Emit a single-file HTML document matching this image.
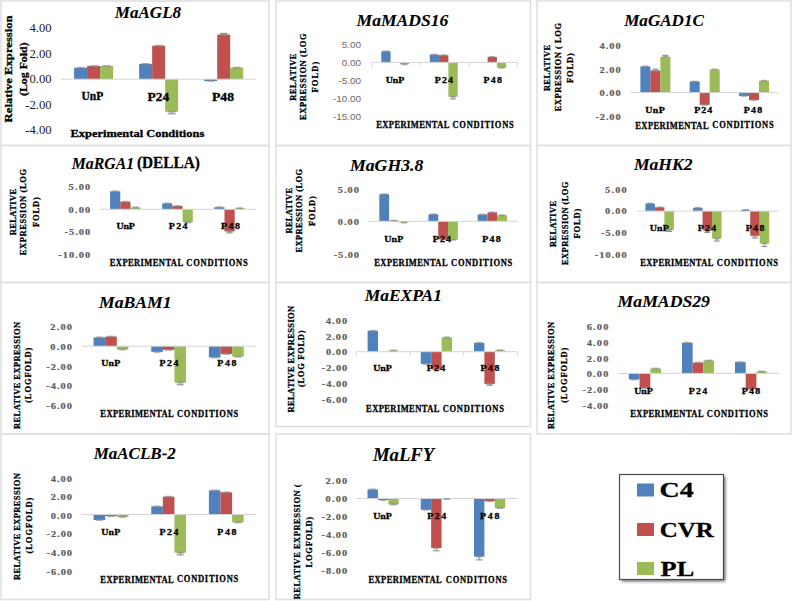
<!DOCTYPE html>
<html><head><meta charset="utf-8"><style>
html,body{margin:0;padding:0;background:#fff;}
svg{display:block;}
</style></head><body>
<svg width="793" height="601" viewBox="0 0 793 601">
<defs><filter id="sh" x="-10%" y="-10%" width="130%" height="130%"><feGaussianBlur stdDeviation="1.4"/></filter></defs>
<rect width="793" height="601" fill="#fff"/>
<rect x="1.00" y="1.00" width="268.00" height="144.50" fill="none" stroke="#dedede" stroke-width="1.5"/>
<rect x="74.10" y="67.80" width="13.00" height="11.40" fill="#4f81bd"/>
<rect x="87.10" y="66.00" width="13.00" height="13.20" fill="#c0504d"/>
<rect x="100.10" y="66.00" width="13.00" height="13.20" fill="#9bbb59"/>
<rect x="139.15" y="63.90" width="13.00" height="15.30" fill="#4f81bd"/>
<rect x="152.15" y="45.70" width="13.00" height="33.50" fill="#c0504d"/>
<rect x="165.15" y="79.20" width="13.00" height="32.50" fill="#9bbb59"/>
<rect x="204.20" y="79.20" width="13.00" height="1.80" fill="#4f81bd"/>
<rect x="217.20" y="34.60" width="13.00" height="44.60" fill="#c0504d"/>
<rect x="230.20" y="67.60" width="13.00" height="11.60" fill="#9bbb59"/>
<line x1="61.00" y1="79.20" x2="256.00" y2="79.20" stroke="#d4d4d4" stroke-width="1.0"/>
<rect x="76.70" y="66.90" width="7.80" height="1.8" fill="#8c8c8c" opacity="0.75"/>
<rect x="89.70" y="65.10" width="7.80" height="1.8" fill="#8c8c8c" opacity="0.75"/>
<rect x="102.70" y="65.10" width="7.80" height="1.8" fill="#8c8c8c" opacity="0.75"/>
<rect x="141.75" y="63.00" width="7.80" height="1.8" fill="#8c8c8c" opacity="0.75"/>
<rect x="154.75" y="44.80" width="7.80" height="1.8" fill="#8c8c8c" opacity="0.75"/>
<line x1="171.65" y1="111.70" x2="171.65" y2="113.90" stroke="#8c8c8c" stroke-width="0.9"/>
<line x1="167.75" y1="113.90" x2="175.55" y2="113.90" stroke="#8c8c8c" stroke-width="1.1"/>
<rect x="167.75" y="110.80" width="7.80" height="1.8" fill="#8c8c8c" opacity="0.75"/>
<rect x="206.80" y="80.10" width="7.80" height="1.8" fill="#8c8c8c" opacity="0.75"/>
<line x1="223.70" y1="34.60" x2="223.70" y2="33.40" stroke="#8c8c8c" stroke-width="0.9"/>
<line x1="219.80" y1="33.40" x2="227.60" y2="33.40" stroke="#8c8c8c" stroke-width="1.1"/>
<rect x="219.80" y="33.70" width="7.80" height="1.8" fill="#8c8c8c" opacity="0.75"/>
<rect x="232.80" y="66.70" width="7.80" height="1.8" fill="#8c8c8c" opacity="0.75"/>
<text id="t0" x="114.86" y="18.42" font-family="Liberation Serif" font-size="17.00" font-weight="bold" font-style="italic" fill="#000" stroke="#000" stroke-width="0.1" textLength="66.19" lengthAdjust="spacingAndGlyphs">MaAGL8</text>
<text id="t1" x="29.55" y="32.13" font-family="Liberation Serif" font-size="12.40" font-weight="normal" fill="#1a1a1a" textLength="22.06" lengthAdjust="spacingAndGlyphs">4.00</text>
<text id="t2" x="29.55" y="57.61" font-family="Liberation Serif" font-size="12.40" font-weight="normal" fill="#1a1a1a" textLength="22.06" lengthAdjust="spacingAndGlyphs">2.00</text>
<text id="t3" x="29.55" y="83.08" font-family="Liberation Serif" font-size="12.40" font-weight="normal" fill="#1a1a1a" textLength="22.06" lengthAdjust="spacingAndGlyphs">0.00</text>
<text id="t4" x="25.33" y="108.56" font-family="Liberation Serif" font-size="12.40" font-weight="normal" fill="#1a1a1a" textLength="26.25" lengthAdjust="spacingAndGlyphs">-2.00</text>
<text id="t5" x="25.33" y="134.03" font-family="Liberation Serif" font-size="12.40" font-weight="normal" fill="#1a1a1a" textLength="26.25" lengthAdjust="spacingAndGlyphs">-4.00</text>
<text id="t6" x="81.51" y="100.46" font-family="Liberation Serif" font-size="11.80" font-weight="bold" fill="#000" stroke="#000" stroke-width="0.3" textLength="21.77" lengthAdjust="spacingAndGlyphs">UnP</text>
<text id="t7" x="147.60" y="100.54" font-family="Liberation Serif" font-size="11.80" font-weight="bold" fill="#000" stroke="#000" stroke-width="0.3" textLength="21.68" lengthAdjust="spacingAndGlyphs">P24</text>
<text id="t8" x="212.00" y="100.51" font-family="Liberation Serif" font-size="11.80" font-weight="bold" fill="#000" stroke="#000" stroke-width="0.3" textLength="21.99" lengthAdjust="spacingAndGlyphs">P48</text>
<text id="t9" x="70.51" y="136.77" font-family="Liberation Serif" font-size="10.90" font-weight="bold" fill="#000" stroke="#000" stroke-width="0.3" textLength="133.81" lengthAdjust="spacingAndGlyphs">Experimental Conditions</text>
<text id="t10" transform="translate(11.96,122.20) rotate(-90)" x="-0.19" y="0" font-family="Liberation Serif" font-size="11.30" font-weight="bold" fill="#000" stroke="#000" stroke-width="0.3" textLength="107.03" lengthAdjust="spacingAndGlyphs">Relative Expression</text>
<text id="t11" transform="translate(26.68,95.50) rotate(-90)" x="-0.53" y="0" font-family="Liberation Serif" font-size="11.30" font-weight="bold" fill="#000" stroke="#000" stroke-width="0.3" textLength="53.64" lengthAdjust="spacingAndGlyphs">(Log Fold)</text>
<rect x="276.00" y="1.00" width="254.50" height="144.50" fill="none" stroke="#dedede" stroke-width="1.5"/>
<rect x="381.30" y="51.30" width="9.30" height="11.10" fill="#4f81bd"/>
<rect x="399.90" y="62.40" width="9.30" height="1.90" fill="#9bbb59"/>
<rect x="429.80" y="54.60" width="9.30" height="7.80" fill="#4f81bd"/>
<rect x="439.10" y="55.20" width="9.30" height="7.20" fill="#c0504d"/>
<rect x="448.40" y="62.40" width="9.30" height="34.30" fill="#9bbb59"/>
<rect x="487.60" y="56.90" width="9.30" height="5.50" fill="#c0504d"/>
<rect x="496.90" y="62.40" width="9.30" height="5.30" fill="#9bbb59"/>
<line x1="371.60" y1="62.40" x2="517.50" y2="62.40" stroke="#d4d4d4" stroke-width="1.0"/>
<line x1="371.60" y1="62.40" x2="371.60" y2="66.40" stroke="#d4d4d4" stroke-width="1"/>
<line x1="420.23" y1="62.40" x2="420.23" y2="66.40" stroke="#d4d4d4" stroke-width="1"/>
<line x1="468.87" y1="62.40" x2="468.87" y2="66.40" stroke="#d4d4d4" stroke-width="1"/>
<line x1="517.50" y1="62.40" x2="517.50" y2="66.40" stroke="#d4d4d4" stroke-width="1"/>
<rect x="383.16" y="50.40" width="5.58" height="1.8" fill="#8c8c8c" opacity="0.75"/>
<rect x="401.76" y="63.40" width="5.58" height="1.8" fill="#8c8c8c" opacity="0.75"/>
<rect x="431.66" y="53.70" width="5.58" height="1.8" fill="#8c8c8c" opacity="0.75"/>
<rect x="440.96" y="54.30" width="5.58" height="1.8" fill="#8c8c8c" opacity="0.75"/>
<line x1="453.05" y1="96.70" x2="453.05" y2="98.90" stroke="#8c8c8c" stroke-width="0.9"/>
<line x1="450.26" y1="98.90" x2="455.84" y2="98.90" stroke="#8c8c8c" stroke-width="1.1"/>
<rect x="450.26" y="95.80" width="5.58" height="1.8" fill="#8c8c8c" opacity="0.75"/>
<rect x="489.46" y="56.00" width="5.58" height="1.8" fill="#8c8c8c" opacity="0.75"/>
<rect x="498.76" y="66.80" width="5.58" height="1.8" fill="#8c8c8c" opacity="0.75"/>
<text id="t12" x="356.56" y="26.02" font-family="Liberation Serif" font-size="17.00" font-weight="bold" font-style="italic" fill="#000" stroke="#000" stroke-width="0.1" textLength="91.81" lengthAdjust="spacingAndGlyphs">MaMADS16</text>
<text id="t13" x="341.80" y="47.57" font-family="Liberation Sans" font-size="8.60" font-weight="normal" fill="#6a6a6a" textLength="19.36" lengthAdjust="spacingAndGlyphs">5.00</text>
<text id="t14" x="341.80" y="65.57" font-family="Liberation Sans" font-size="8.60" font-weight="normal" fill="#6a6a6a" textLength="19.36" lengthAdjust="spacingAndGlyphs">0.00</text>
<text id="t15" x="338.47" y="83.57" font-family="Liberation Sans" font-size="8.60" font-weight="normal" fill="#6a6a6a" textLength="22.67" lengthAdjust="spacingAndGlyphs">-5.00</text>
<text id="t16" x="332.95" y="101.57" font-family="Liberation Sans" font-size="8.60" font-weight="normal" fill="#6a6a6a" textLength="28.20" lengthAdjust="spacingAndGlyphs">-10.00</text>
<text id="t17" x="332.95" y="119.57" font-family="Liberation Sans" font-size="8.60" font-weight="normal" fill="#6a6a6a" textLength="28.20" lengthAdjust="spacingAndGlyphs">-15.00</text>
<text id="t18" transform="scale(1.1,1)" x="350.68" y="83.05" font-family="Liberation Serif" font-size="9.00" font-weight="bold" fill="#000" stroke="#000" stroke-width="0.3" textLength="16.81" lengthAdjust="spacing">UnP</text>
<text id="t19" transform="scale(1.1,1)" x="395.14" y="83.12" font-family="Liberation Serif" font-size="9.00" font-weight="bold" fill="#000" stroke="#000" stroke-width="0.3" textLength="16.69" lengthAdjust="spacing">P24</text>
<text id="t20" transform="scale(1.1,1)" x="439.50" y="83.10" font-family="Liberation Serif" font-size="9.00" font-weight="bold" fill="#000" stroke="#000" stroke-width="0.3" textLength="16.82" lengthAdjust="spacing">P48</text>
<text id="t21" transform="scale(0.86,1)" x="437.41" y="128.42" font-family="Liberation Serif" font-size="9.90" font-weight="bold" fill="#000" stroke="#000" stroke-width="0.3" textLength="85.23" lengthAdjust="spacing">EXPERIMENTAL</text>
<text id="t22" transform="scale(0.86,1)" x="526.13" y="128.37" font-family="Liberation Serif" font-size="9.90" font-weight="bold" fill="#000" stroke="#000" stroke-width="0.3" textLength="71.25" lengthAdjust="spacing">CONDITIONS</text>
<text id="t23" transform="translate(295.72,100.60) rotate(-90) scale(0.92,1)" x="-0.14" y="0" font-family="Liberation Serif" font-size="9.20" font-weight="bold" fill="#000" stroke="#000" stroke-width="0.3" textLength="51.36" lengthAdjust="spacing">RELATIVE</text>
<text id="t24" transform="translate(306.06,119.80) rotate(-90) scale(0.92,1)" x="-0.14" y="0" font-family="Liberation Serif" font-size="9.20" font-weight="bold" fill="#000" stroke="#000" stroke-width="0.3" textLength="93.97" lengthAdjust="spacing">EXPRESSION (LOG</text>
<text id="t25" transform="translate(318.36,92.30) rotate(-90) scale(0.92,1)" x="-0.14" y="0" font-family="Liberation Serif" font-size="9.20" font-weight="bold" fill="#000" stroke="#000" stroke-width="0.3" textLength="33.34" lengthAdjust="spacing">FOLD)</text>
<rect x="537.00" y="1.00" width="254.00" height="144.50" fill="none" stroke="#dedede" stroke-width="1.5"/>
<rect x="640.40" y="66.40" width="10.00" height="26.20" fill="#4f81bd"/>
<rect x="650.40" y="70.50" width="10.00" height="22.10" fill="#c0504d"/>
<rect x="660.40" y="56.90" width="10.00" height="35.70" fill="#9bbb59"/>
<rect x="689.70" y="81.50" width="10.00" height="11.10" fill="#4f81bd"/>
<rect x="699.70" y="92.60" width="10.00" height="12.30" fill="#c0504d"/>
<rect x="709.70" y="69.50" width="10.00" height="23.10" fill="#9bbb59"/>
<rect x="739.00" y="92.60" width="10.00" height="3.30" fill="#4f81bd"/>
<rect x="749.00" y="92.60" width="10.00" height="7.40" fill="#c0504d"/>
<rect x="759.00" y="80.70" width="10.00" height="11.90" fill="#9bbb59"/>
<line x1="630.40" y1="92.60" x2="778.70" y2="92.60" stroke="#d4d4d4" stroke-width="1.0"/>
<rect x="642.40" y="65.50" width="6.00" height="1.8" fill="#8c8c8c" opacity="0.75"/>
<line x1="655.40" y1="70.50" x2="655.40" y2="69.10" stroke="#8c8c8c" stroke-width="0.9"/>
<line x1="652.40" y1="69.10" x2="658.40" y2="69.10" stroke="#8c8c8c" stroke-width="1.1"/>
<rect x="652.40" y="69.60" width="6.00" height="1.8" fill="#8c8c8c" opacity="0.75"/>
<line x1="665.40" y1="56.90" x2="665.40" y2="55.30" stroke="#8c8c8c" stroke-width="0.9"/>
<line x1="662.40" y1="55.30" x2="668.40" y2="55.30" stroke="#8c8c8c" stroke-width="1.1"/>
<rect x="662.40" y="56.00" width="6.00" height="1.8" fill="#8c8c8c" opacity="0.75"/>
<rect x="691.70" y="80.60" width="6.00" height="1.8" fill="#8c8c8c" opacity="0.75"/>
<rect x="701.70" y="104.00" width="6.00" height="1.8" fill="#8c8c8c" opacity="0.75"/>
<rect x="711.70" y="68.60" width="6.00" height="1.8" fill="#8c8c8c" opacity="0.75"/>
<rect x="741.00" y="95.00" width="6.00" height="1.8" fill="#8c8c8c" opacity="0.75"/>
<rect x="751.00" y="99.10" width="6.00" height="1.8" fill="#8c8c8c" opacity="0.75"/>
<rect x="761.00" y="79.80" width="6.00" height="1.8" fill="#8c8c8c" opacity="0.75"/>
<text id="t26" x="624.16" y="26.02" font-family="Liberation Serif" font-size="17.00" font-weight="bold" font-style="italic" fill="#000" stroke="#000" stroke-width="0.1" textLength="79.72" lengthAdjust="spacingAndGlyphs">MaGAD1C</text>
<text id="t27" transform="scale(1.15,1)" x="521.34" y="48.72" font-family="Liberation Serif" font-size="9.00" font-weight="bold" fill="#5c5c5c" stroke="#5c5c5c" stroke-width="0.2" textLength="18.32" lengthAdjust="spacing">4.00</text>
<text id="t28" transform="scale(1.15,1)" x="521.38" y="72.56" font-family="Liberation Serif" font-size="9.00" font-weight="bold" fill="#5c5c5c" stroke="#5c5c5c" stroke-width="0.2" textLength="18.28" lengthAdjust="spacing">2.00</text>
<text id="t29" transform="scale(1.15,1)" x="521.38" y="96.39" font-family="Liberation Serif" font-size="9.00" font-weight="bold" fill="#5c5c5c" stroke="#5c5c5c" stroke-width="0.2" textLength="18.28" lengthAdjust="spacing">0.00</text>
<text id="t30" transform="scale(1.15,1)" x="517.85" y="120.22" font-family="Liberation Serif" font-size="9.00" font-weight="bold" fill="#5c5c5c" stroke="#5c5c5c" stroke-width="0.2" textLength="21.80" lengthAdjust="spacing">-2.00</text>
<text id="t31" transform="scale(1.1,1)" x="586.59" y="112.60" font-family="Liberation Serif" font-size="9.00" font-weight="bold" fill="#000" stroke="#000" stroke-width="0.3" textLength="17.72" lengthAdjust="spacing">UnP</text>
<text id="t32" transform="scale(1.1,1)" x="631.05" y="112.67" font-family="Liberation Serif" font-size="9.00" font-weight="bold" fill="#000" stroke="#000" stroke-width="0.3" textLength="16.50" lengthAdjust="spacing">P24</text>
<text id="t33" transform="scale(1.1,1)" x="676.05" y="112.65" font-family="Liberation Serif" font-size="9.00" font-weight="bold" fill="#000" stroke="#000" stroke-width="0.3" textLength="16.82" lengthAdjust="spacing">P48</text>
<text id="t34" transform="scale(0.86,1)" x="738.69" y="128.52" font-family="Liberation Serif" font-size="9.90" font-weight="bold" fill="#000" stroke="#000" stroke-width="0.3" textLength="85.23" lengthAdjust="spacing">EXPERIMENTAL</text>
<text id="t35" transform="scale(0.86,1)" x="828.34" y="128.47" font-family="Liberation Serif" font-size="9.90" font-weight="bold" fill="#000" stroke="#000" stroke-width="0.3" textLength="71.25" lengthAdjust="spacing">CONDITIONS</text>
<text id="t36" transform="translate(549.57,91.00) rotate(-90) scale(0.92,1)" x="-0.14" y="0" font-family="Liberation Serif" font-size="9.20" font-weight="bold" fill="#000" stroke="#000" stroke-width="0.3" textLength="50.38" lengthAdjust="spacing">RELATIVE</text>
<text id="t37" transform="translate(560.71,111.20) rotate(-90) scale(0.92,1)" x="-0.14" y="0" font-family="Liberation Serif" font-size="9.20" font-weight="bold" fill="#000" stroke="#000" stroke-width="0.3" textLength="96.03" lengthAdjust="spacing">EXPRESSION ( LOG</text>
<text id="t38" transform="translate(573.06,82.80) rotate(-90) scale(0.92,1)" x="-0.14" y="0" font-family="Liberation Serif" font-size="9.20" font-weight="bold" fill="#000" stroke="#000" stroke-width="0.3" textLength="32.36" lengthAdjust="spacing">FOLD)</text>
<rect x="1.00" y="145.50" width="268.00" height="137.00" fill="none" stroke="#dedede" stroke-width="1.5"/>
<rect x="110.10" y="191.30" width="10.20" height="18.00" fill="#4f81bd"/>
<rect x="120.30" y="201.70" width="10.20" height="7.60" fill="#c0504d"/>
<rect x="130.50" y="207.40" width="10.20" height="1.90" fill="#9bbb59"/>
<rect x="162.20" y="203.40" width="10.20" height="5.90" fill="#4f81bd"/>
<rect x="172.40" y="206.00" width="10.20" height="3.30" fill="#c0504d"/>
<rect x="182.60" y="209.30" width="10.20" height="13.10" fill="#9bbb59"/>
<rect x="214.30" y="207.20" width="10.20" height="2.10" fill="#4f81bd"/>
<rect x="224.50" y="209.30" width="10.20" height="22.10" fill="#c0504d"/>
<rect x="234.70" y="208.20" width="10.20" height="1.10" fill="#9bbb59"/>
<line x1="100.50" y1="209.30" x2="256.30" y2="209.30" stroke="#d4d4d4" stroke-width="1.0"/>
<rect x="112.14" y="190.40" width="6.12" height="1.8" fill="#8c8c8c" opacity="0.75"/>
<rect x="122.34" y="200.80" width="6.12" height="1.8" fill="#8c8c8c" opacity="0.75"/>
<rect x="132.54" y="206.50" width="6.12" height="1.8" fill="#8c8c8c" opacity="0.75"/>
<rect x="164.24" y="202.50" width="6.12" height="1.8" fill="#8c8c8c" opacity="0.75"/>
<rect x="174.44" y="205.10" width="6.12" height="1.8" fill="#8c8c8c" opacity="0.75"/>
<rect x="184.64" y="221.50" width="6.12" height="1.8" fill="#8c8c8c" opacity="0.75"/>
<rect x="216.34" y="206.30" width="6.12" height="1.8" fill="#8c8c8c" opacity="0.75"/>
<line x1="229.60" y1="231.40" x2="229.60" y2="233.00" stroke="#8c8c8c" stroke-width="0.9"/>
<line x1="226.54" y1="233.00" x2="232.66" y2="233.00" stroke="#8c8c8c" stroke-width="1.1"/>
<rect x="226.54" y="230.50" width="6.12" height="1.8" fill="#8c8c8c" opacity="0.75"/>
<rect x="236.74" y="207.30" width="6.12" height="1.8" fill="#8c8c8c" opacity="0.75"/>
<text id="t39" x="71.74" y="168.68" font-family="Liberation Serif" font-size="17.00" font-weight="bold" font-style="italic" fill="#000" stroke="#000" stroke-width="0.1" textLength="62.35" lengthAdjust="spacingAndGlyphs">MaRGA1</text>
<text id="t40" x="137.01" y="168.08" font-family="Liberation Serif" font-size="17.00" font-weight="bold" fill="#000" stroke="#000" stroke-width="0.3" textLength="62.82" lengthAdjust="spacingAndGlyphs">(DELLA)</text>
<text id="t41" transform="scale(1.15,1)" x="59.64" y="190.23" font-family="Liberation Serif" font-size="9.00" font-weight="bold" fill="#5c5c5c" stroke="#5c5c5c" stroke-width="0.2" textLength="18.81" lengthAdjust="spacing">5.00</text>
<text id="t42" transform="scale(1.15,1)" x="59.64" y="212.69" font-family="Liberation Serif" font-size="9.00" font-weight="bold" fill="#5c5c5c" stroke="#5c5c5c" stroke-width="0.2" textLength="18.81" lengthAdjust="spacing">0.00</text>
<text id="t43" transform="scale(1.15,1)" x="56.00" y="235.16" font-family="Liberation Serif" font-size="9.00" font-weight="bold" fill="#5c5c5c" stroke="#5c5c5c" stroke-width="0.2" textLength="22.43" lengthAdjust="spacing">-5.00</text>
<text id="t44" transform="scale(1.15,1)" x="50.59" y="257.62" font-family="Liberation Serif" font-size="9.00" font-weight="bold" fill="#5c5c5c" stroke="#5c5c5c" stroke-width="0.2" textLength="27.84" lengthAdjust="spacing">-10.00</text>
<text id="t45" transform="scale(1.1,1)" x="105.87" y="228.85" font-family="Liberation Serif" font-size="9.00" font-weight="bold" fill="#000" stroke="#000" stroke-width="0.3" textLength="16.72" lengthAdjust="spacing">UnP</text>
<text id="t46" transform="scale(1.1,1)" x="153.41" y="228.92" font-family="Liberation Serif" font-size="9.00" font-weight="bold" fill="#000" stroke="#000" stroke-width="0.3" textLength="16.96" lengthAdjust="spacing">P24</text>
<text id="t47" transform="scale(1.1,1)" x="200.96" y="228.90" font-family="Liberation Serif" font-size="9.00" font-weight="bold" fill="#000" stroke="#000" stroke-width="0.3" textLength="17.19" lengthAdjust="spacing">P48</text>
<text id="t48" transform="scale(0.86,1)" x="127.64" y="265.97" font-family="Liberation Serif" font-size="9.90" font-weight="bold" fill="#000" stroke="#000" stroke-width="0.3" textLength="85.23" lengthAdjust="spacing">EXPERIMENTAL</text>
<text id="t49" transform="scale(0.86,1)" x="216.71" y="265.92" font-family="Liberation Serif" font-size="9.90" font-weight="bold" fill="#000" stroke="#000" stroke-width="0.3" textLength="71.25" lengthAdjust="spacing">CONDITIONS</text>
<text id="t50" transform="translate(15.62,235.10) rotate(-90) scale(0.92,1)" x="-0.14" y="0" font-family="Liberation Serif" font-size="9.20" font-weight="bold" fill="#000" stroke="#000" stroke-width="0.3" textLength="50.38" lengthAdjust="spacing">RELATIVE</text>
<text id="t51" transform="translate(26.21,255.20) rotate(-90) scale(0.92,1)" x="-0.14" y="0" font-family="Liberation Serif" font-size="9.20" font-weight="bold" fill="#000" stroke="#000" stroke-width="0.3" textLength="93.86" lengthAdjust="spacing">EXPRESSION (LOG</text>
<text id="t52" transform="translate(38.66,226.80) rotate(-90) scale(0.92,1)" x="-0.14" y="0" font-family="Liberation Serif" font-size="9.20" font-weight="bold" fill="#000" stroke="#000" stroke-width="0.3" textLength="32.36" lengthAdjust="spacing">FOLD)</text>
<rect x="276.00" y="145.50" width="254.50" height="137.00" fill="none" stroke="#dedede" stroke-width="1.5"/>
<rect x="379.30" y="194.20" width="9.80" height="27.10" fill="#4f81bd"/>
<rect x="389.10" y="220.60" width="9.80" height="0.70" fill="#c0504d"/>
<rect x="398.90" y="221.30" width="9.80" height="1.30" fill="#9bbb59"/>
<rect x="428.45" y="214.30" width="9.80" height="7.00" fill="#4f81bd"/>
<rect x="438.25" y="221.30" width="9.80" height="18.10" fill="#c0504d"/>
<rect x="448.05" y="221.30" width="9.80" height="18.50" fill="#9bbb59"/>
<rect x="477.60" y="214.50" width="9.80" height="6.80" fill="#4f81bd"/>
<rect x="487.40" y="212.40" width="9.80" height="8.90" fill="#c0504d"/>
<rect x="497.20" y="215.20" width="9.80" height="6.10" fill="#9bbb59"/>
<line x1="368.60" y1="221.30" x2="517.70" y2="221.30" stroke="#d4d4d4" stroke-width="1.0"/>
<rect x="381.26" y="193.30" width="5.88" height="1.8" fill="#8c8c8c" opacity="0.75"/>
<rect x="391.06" y="219.70" width="5.88" height="1.8" fill="#8c8c8c" opacity="0.75"/>
<rect x="400.86" y="221.70" width="5.88" height="1.8" fill="#8c8c8c" opacity="0.75"/>
<rect x="430.41" y="213.40" width="5.88" height="1.8" fill="#8c8c8c" opacity="0.75"/>
<rect x="440.21" y="238.50" width="5.88" height="1.8" fill="#8c8c8c" opacity="0.75"/>
<rect x="450.01" y="238.90" width="5.88" height="1.8" fill="#8c8c8c" opacity="0.75"/>
<rect x="479.56" y="213.60" width="5.88" height="1.8" fill="#8c8c8c" opacity="0.75"/>
<rect x="489.36" y="211.50" width="5.88" height="1.8" fill="#8c8c8c" opacity="0.75"/>
<rect x="499.16" y="214.30" width="5.88" height="1.8" fill="#8c8c8c" opacity="0.75"/>
<text id="t53" x="350.07" y="171.03" font-family="Liberation Serif" font-size="17.00" font-weight="bold" font-style="italic" fill="#000" stroke="#000" stroke-width="0.1" textLength="73.18" lengthAdjust="spacingAndGlyphs">MaGH3.8</text>
<text id="t54" transform="scale(1.15,1)" x="293.73" y="192.93" font-family="Liberation Serif" font-size="9.00" font-weight="bold" fill="#5c5c5c" stroke="#5c5c5c" stroke-width="0.2" textLength="18.37" lengthAdjust="spacing">5.00</text>
<text id="t55" transform="scale(1.15,1)" x="293.73" y="225.33" font-family="Liberation Serif" font-size="9.00" font-weight="bold" fill="#5c5c5c" stroke="#5c5c5c" stroke-width="0.2" textLength="18.37" lengthAdjust="spacing">0.00</text>
<text id="t56" transform="scale(1.15,1)" x="290.18" y="257.73" font-family="Liberation Serif" font-size="9.00" font-weight="bold" fill="#5c5c5c" stroke="#5c5c5c" stroke-width="0.2" textLength="21.90" lengthAdjust="spacing">-5.00</text>
<text id="t57" transform="scale(1.1,1)" x="349.32" y="241.80" font-family="Liberation Serif" font-size="9.00" font-weight="bold" fill="#000" stroke="#000" stroke-width="0.3" textLength="17.26" lengthAdjust="spacing">UnP</text>
<text id="t58" transform="scale(1.1,1)" x="393.32" y="241.87" font-family="Liberation Serif" font-size="9.00" font-weight="bold" fill="#000" stroke="#000" stroke-width="0.3" textLength="16.69" lengthAdjust="spacing">P24</text>
<text id="t59" transform="scale(1.1,1)" x="438.32" y="241.85" font-family="Liberation Serif" font-size="9.00" font-weight="bold" fill="#000" stroke="#000" stroke-width="0.3" textLength="16.82" lengthAdjust="spacing">P48</text>
<text id="t60" transform="scale(0.86,1)" x="435.20" y="265.87" font-family="Liberation Serif" font-size="9.90" font-weight="bold" fill="#000" stroke="#000" stroke-width="0.3" textLength="85.23" lengthAdjust="spacing">EXPERIMENTAL</text>
<text id="t61" transform="scale(0.86,1)" x="524.50" y="265.82" font-family="Liberation Serif" font-size="9.90" font-weight="bold" fill="#000" stroke="#000" stroke-width="0.3" textLength="71.25" lengthAdjust="spacing">CONDITIONS</text>
<text id="t62" transform="translate(291.77,233.30) rotate(-90) scale(0.92,1)" x="-0.14" y="0" font-family="Liberation Serif" font-size="9.20" font-weight="bold" fill="#000" stroke="#000" stroke-width="0.3" textLength="49.40" lengthAdjust="spacing">RELATIVE</text>
<text id="t63" transform="translate(302.36,252.50) rotate(-90) scale(0.92,1)" x="-0.14" y="0" font-family="Liberation Serif" font-size="9.20" font-weight="bold" fill="#000" stroke="#000" stroke-width="0.3" textLength="90.93" lengthAdjust="spacing">EXPRESSION (LOG</text>
<text id="t64" transform="translate(314.81,225.90) rotate(-90) scale(0.92,1)" x="-0.14" y="0" font-family="Liberation Serif" font-size="9.20" font-weight="bold" fill="#000" stroke="#000" stroke-width="0.3" textLength="32.36" lengthAdjust="spacing">FOLD)</text>
<rect x="537.00" y="145.50" width="254.00" height="137.00" fill="none" stroke="#dedede" stroke-width="1.5"/>
<rect x="645.40" y="203.50" width="9.50" height="7.60" fill="#4f81bd"/>
<rect x="654.90" y="207.30" width="9.50" height="3.80" fill="#c0504d"/>
<rect x="664.40" y="211.10" width="9.50" height="18.80" fill="#9bbb59"/>
<rect x="693.05" y="207.80" width="9.50" height="3.30" fill="#4f81bd"/>
<rect x="702.55" y="211.10" width="9.50" height="19.30" fill="#c0504d"/>
<rect x="712.05" y="211.10" width="9.50" height="27.50" fill="#9bbb59"/>
<rect x="740.70" y="209.90" width="9.50" height="1.20" fill="#4f81bd"/>
<rect x="750.20" y="211.10" width="9.50" height="24.70" fill="#c0504d"/>
<rect x="759.70" y="211.10" width="9.50" height="32.40" fill="#9bbb59"/>
<line x1="637.00" y1="211.10" x2="778.70" y2="211.10" stroke="#d4d4d4" stroke-width="1.0"/>
<rect x="647.30" y="202.60" width="5.70" height="1.8" fill="#8c8c8c" opacity="0.75"/>
<rect x="656.80" y="206.40" width="5.70" height="1.8" fill="#8c8c8c" opacity="0.75"/>
<line x1="669.15" y1="229.90" x2="669.15" y2="231.50" stroke="#8c8c8c" stroke-width="0.9"/>
<line x1="666.30" y1="231.50" x2="672.00" y2="231.50" stroke="#8c8c8c" stroke-width="1.1"/>
<rect x="666.30" y="229.00" width="5.70" height="1.8" fill="#8c8c8c" opacity="0.75"/>
<rect x="694.95" y="206.90" width="5.70" height="1.8" fill="#8c8c8c" opacity="0.75"/>
<line x1="707.30" y1="230.40" x2="707.30" y2="232.40" stroke="#8c8c8c" stroke-width="0.9"/>
<line x1="704.45" y1="232.40" x2="710.15" y2="232.40" stroke="#8c8c8c" stroke-width="1.1"/>
<rect x="704.45" y="229.50" width="5.70" height="1.8" fill="#8c8c8c" opacity="0.75"/>
<line x1="716.80" y1="238.60" x2="716.80" y2="241.00" stroke="#8c8c8c" stroke-width="0.9"/>
<line x1="713.95" y1="241.00" x2="719.65" y2="241.00" stroke="#8c8c8c" stroke-width="1.1"/>
<rect x="713.95" y="237.70" width="5.70" height="1.8" fill="#8c8c8c" opacity="0.75"/>
<rect x="742.60" y="209.00" width="5.70" height="1.8" fill="#8c8c8c" opacity="0.75"/>
<line x1="754.95" y1="235.80" x2="754.95" y2="238.00" stroke="#8c8c8c" stroke-width="0.9"/>
<line x1="752.10" y1="238.00" x2="757.80" y2="238.00" stroke="#8c8c8c" stroke-width="1.1"/>
<rect x="752.10" y="234.90" width="5.70" height="1.8" fill="#8c8c8c" opacity="0.75"/>
<line x1="764.45" y1="243.50" x2="764.45" y2="246.50" stroke="#8c8c8c" stroke-width="0.9"/>
<line x1="761.60" y1="246.50" x2="767.30" y2="246.50" stroke="#8c8c8c" stroke-width="1.1"/>
<rect x="761.60" y="242.60" width="5.70" height="1.8" fill="#8c8c8c" opacity="0.75"/>
<text id="t65" x="633.96" y="170.18" font-family="Liberation Serif" font-size="17.00" font-weight="bold" font-style="italic" fill="#000" stroke="#000" stroke-width="0.1" textLength="58.56" lengthAdjust="spacingAndGlyphs">MaHK2</text>
<text id="t66" transform="scale(1.15,1)" x="526.16" y="192.63" font-family="Liberation Serif" font-size="9.00" font-weight="bold" fill="#5c5c5c" stroke="#5c5c5c" stroke-width="0.2" textLength="18.81" lengthAdjust="spacing">5.00</text>
<text id="t67" transform="scale(1.15,1)" x="526.16" y="214.39" font-family="Liberation Serif" font-size="9.00" font-weight="bold" fill="#5c5c5c" stroke="#5c5c5c" stroke-width="0.2" textLength="18.81" lengthAdjust="spacing">0.00</text>
<text id="t68" transform="scale(1.15,1)" x="522.52" y="236.16" font-family="Liberation Serif" font-size="9.00" font-weight="bold" fill="#5c5c5c" stroke="#5c5c5c" stroke-width="0.2" textLength="22.43" lengthAdjust="spacing">-5.00</text>
<text id="t69" transform="scale(1.15,1)" x="517.11" y="257.93" font-family="Liberation Serif" font-size="9.00" font-weight="bold" fill="#5c5c5c" stroke="#5c5c5c" stroke-width="0.2" textLength="27.84" lengthAdjust="spacing">-10.00</text>
<text id="t70" transform="scale(1.1,1)" x="590.77" y="230.85" font-family="Liberation Serif" font-size="9.00" font-weight="bold" fill="#000" stroke="#000" stroke-width="0.3" textLength="17.17" lengthAdjust="spacing">UnP</text>
<text id="t71" transform="scale(1.1,1)" x="634.32" y="230.92" font-family="Liberation Serif" font-size="9.00" font-weight="bold" fill="#000" stroke="#000" stroke-width="0.3" textLength="16.69" lengthAdjust="spacing">P24</text>
<text id="t72" transform="scale(1.1,1)" x="677.86" y="230.90" font-family="Liberation Serif" font-size="9.00" font-weight="bold" fill="#000" stroke="#000" stroke-width="0.3" textLength="17.00" lengthAdjust="spacing">P48</text>
<text id="t73" transform="scale(0.86,1)" x="744.39" y="266.07" font-family="Liberation Serif" font-size="9.90" font-weight="bold" fill="#000" stroke="#000" stroke-width="0.3" textLength="85.23" lengthAdjust="spacing">EXPERIMENTAL</text>
<text id="t74" transform="scale(0.86,1)" x="833.46" y="266.02" font-family="Liberation Serif" font-size="9.90" font-weight="bold" fill="#000" stroke="#000" stroke-width="0.3" textLength="71.25" lengthAdjust="spacing">CONDITIONS</text>
<text id="t75" transform="translate(556.42,247.00) rotate(-90) scale(0.92,1)" x="-0.14" y="0" font-family="Liberation Serif" font-size="9.20" font-weight="bold" fill="#000" stroke="#000" stroke-width="0.3" textLength="50.27" lengthAdjust="spacing">RELATIVE</text>
<text id="t76" transform="translate(568.01,264.80) rotate(-90) scale(0.92,1)" x="-0.14" y="0" font-family="Liberation Serif" font-size="9.20" font-weight="bold" fill="#000" stroke="#000" stroke-width="0.3" textLength="90.60" lengthAdjust="spacing">EXPRESSION (LOG</text>
<text id="t77" transform="translate(579.76,238.30) rotate(-90) scale(0.92,1)" x="-0.14" y="0" font-family="Liberation Serif" font-size="9.20" font-weight="bold" fill="#000" stroke="#000" stroke-width="0.3" textLength="32.36" lengthAdjust="spacing">FOLD)</text>
<rect x="1.00" y="282.50" width="268.00" height="151.50" fill="none" stroke="#dedede" stroke-width="1.5"/>
<rect x="93.60" y="337.40" width="11.60" height="8.80" fill="#4f81bd"/>
<rect x="105.20" y="336.60" width="11.60" height="9.60" fill="#c0504d"/>
<rect x="116.80" y="346.20" width="11.60" height="3.30" fill="#9bbb59"/>
<rect x="151.25" y="346.20" width="11.60" height="5.70" fill="#4f81bd"/>
<rect x="162.85" y="346.20" width="11.60" height="3.70" fill="#c0504d"/>
<rect x="174.45" y="346.20" width="11.60" height="36.40" fill="#9bbb59"/>
<rect x="208.90" y="346.20" width="11.60" height="11.20" fill="#4f81bd"/>
<rect x="220.50" y="346.20" width="11.60" height="7.80" fill="#c0504d"/>
<rect x="232.10" y="346.20" width="11.60" height="10.50" fill="#9bbb59"/>
<line x1="81.80" y1="346.20" x2="256.30" y2="346.20" stroke="#d4d4d4" stroke-width="1.0"/>
<rect x="95.92" y="336.50" width="6.96" height="1.8" fill="#8c8c8c" opacity="0.75"/>
<rect x="107.52" y="335.70" width="6.96" height="1.8" fill="#8c8c8c" opacity="0.75"/>
<rect x="119.12" y="348.60" width="6.96" height="1.8" fill="#8c8c8c" opacity="0.75"/>
<rect x="153.57" y="351.00" width="6.96" height="1.8" fill="#8c8c8c" opacity="0.75"/>
<rect x="165.17" y="349.00" width="6.96" height="1.8" fill="#8c8c8c" opacity="0.75"/>
<line x1="180.25" y1="382.60" x2="180.25" y2="384.80" stroke="#8c8c8c" stroke-width="0.9"/>
<line x1="176.77" y1="384.80" x2="183.73" y2="384.80" stroke="#8c8c8c" stroke-width="1.1"/>
<rect x="176.77" y="381.70" width="6.96" height="1.8" fill="#8c8c8c" opacity="0.75"/>
<rect x="211.22" y="356.50" width="6.96" height="1.8" fill="#8c8c8c" opacity="0.75"/>
<rect x="222.82" y="353.10" width="6.96" height="1.8" fill="#8c8c8c" opacity="0.75"/>
<rect x="234.42" y="355.80" width="6.96" height="1.8" fill="#8c8c8c" opacity="0.75"/>
<text id="t78" x="99.06" y="307.67" font-family="Liberation Serif" font-size="17.00" font-weight="bold" font-style="italic" fill="#000" stroke="#000" stroke-width="0.1" textLength="72.54" lengthAdjust="spacingAndGlyphs">MaBAM1</text>
<text id="t79" transform="scale(1.15,1)" x="43.81" y="330.33" font-family="Liberation Serif" font-size="9.00" font-weight="bold" fill="#5c5c5c" stroke="#5c5c5c" stroke-width="0.2" textLength="18.81" lengthAdjust="spacing">2.00</text>
<text id="t80" transform="scale(1.15,1)" x="43.81" y="350.05" font-family="Liberation Serif" font-size="9.00" font-weight="bold" fill="#5c5c5c" stroke="#5c5c5c" stroke-width="0.2" textLength="18.81" lengthAdjust="spacing">0.00</text>
<text id="t81" transform="scale(1.15,1)" x="40.18" y="369.78" font-family="Liberation Serif" font-size="9.00" font-weight="bold" fill="#5c5c5c" stroke="#5c5c5c" stroke-width="0.2" textLength="22.43" lengthAdjust="spacing">-2.00</text>
<text id="t82" transform="scale(1.15,1)" x="40.18" y="389.50" font-family="Liberation Serif" font-size="9.00" font-weight="bold" fill="#5c5c5c" stroke="#5c5c5c" stroke-width="0.2" textLength="22.43" lengthAdjust="spacing">-4.00</text>
<text id="t83" transform="scale(1.15,1)" x="40.18" y="409.23" font-family="Liberation Serif" font-size="9.00" font-weight="bold" fill="#5c5c5c" stroke="#5c5c5c" stroke-width="0.2" textLength="22.43" lengthAdjust="spacing">-6.00</text>
<text id="t84" transform="scale(1.1,1)" x="91.96" y="366.40" font-family="Liberation Serif" font-size="9.00" font-weight="bold" fill="#000" stroke="#000" stroke-width="0.3" textLength="17.44" lengthAdjust="spacing">UnP</text>
<text id="t85" transform="scale(1.1,1)" x="144.96" y="366.47" font-family="Liberation Serif" font-size="9.00" font-weight="bold" fill="#000" stroke="#000" stroke-width="0.3" textLength="17.32" lengthAdjust="spacing">P24</text>
<text id="t86" transform="scale(1.1,1)" x="197.59" y="366.45" font-family="Liberation Serif" font-size="9.00" font-weight="bold" fill="#000" stroke="#000" stroke-width="0.3" textLength="17.46" lengthAdjust="spacing">P48</text>
<text id="t87" transform="scale(0.86,1)" x="116.71" y="417.42" font-family="Liberation Serif" font-size="9.90" font-weight="bold" fill="#000" stroke="#000" stroke-width="0.3" textLength="85.23" lengthAdjust="spacing">EXPERIMENTAL</text>
<text id="t88" transform="scale(0.86,1)" x="205.78" y="417.37" font-family="Liberation Serif" font-size="9.90" font-weight="bold" fill="#000" stroke="#000" stroke-width="0.3" textLength="71.25" lengthAdjust="spacing">CONDITIONS</text>
<text id="t89" transform="translate(20.12,428.80) rotate(-90) scale(0.92,1)" x="-0.14" y="0" font-family="Liberation Serif" font-size="9.20" font-weight="bold" fill="#000" stroke="#000" stroke-width="0.3" textLength="116.32" lengthAdjust="spacing">RELATIVE EXPRESSION</text>
<text id="t90" transform="translate(31.31,402.50) rotate(-90) scale(0.92,1)" x="-0.41" y="0" font-family="Liberation Serif" font-size="9.20" font-weight="bold" fill="#000" stroke="#000" stroke-width="0.3" textLength="60.04" lengthAdjust="spacing">(LOGFOLD)</text>
<rect x="276.00" y="282.50" width="254.50" height="144.00" fill="none" stroke="#dedede" stroke-width="1.5"/>
<rect x="367.60" y="330.80" width="10.40" height="20.90" fill="#4f81bd"/>
<rect x="388.40" y="350.50" width="10.40" height="1.20" fill="#9bbb59"/>
<rect x="420.80" y="351.70" width="10.40" height="12.20" fill="#4f81bd"/>
<rect x="431.20" y="351.70" width="10.40" height="17.90" fill="#c0504d"/>
<rect x="441.60" y="337.40" width="10.40" height="14.30" fill="#9bbb59"/>
<rect x="474.00" y="342.80" width="10.40" height="8.90" fill="#4f81bd"/>
<rect x="484.40" y="351.70" width="10.40" height="32.20" fill="#c0504d"/>
<rect x="494.80" y="350.20" width="10.40" height="1.50" fill="#9bbb59"/>
<line x1="356.30" y1="351.70" x2="517.50" y2="351.70" stroke="#d4d4d4" stroke-width="1.0"/>
<line x1="356.30" y1="351.70" x2="356.30" y2="355.70" stroke="#d4d4d4" stroke-width="1"/>
<line x1="410.03" y1="351.70" x2="410.03" y2="355.70" stroke="#d4d4d4" stroke-width="1"/>
<line x1="463.77" y1="351.70" x2="463.77" y2="355.70" stroke="#d4d4d4" stroke-width="1"/>
<line x1="517.50" y1="351.70" x2="517.50" y2="355.70" stroke="#d4d4d4" stroke-width="1"/>
<rect x="369.68" y="329.90" width="6.24" height="1.8" fill="#8c8c8c" opacity="0.75"/>
<rect x="390.48" y="349.60" width="6.24" height="1.8" fill="#8c8c8c" opacity="0.75"/>
<rect x="422.88" y="363.00" width="6.24" height="1.8" fill="#8c8c8c" opacity="0.75"/>
<rect x="433.28" y="368.70" width="6.24" height="1.8" fill="#8c8c8c" opacity="0.75"/>
<rect x="443.68" y="336.50" width="6.24" height="1.8" fill="#8c8c8c" opacity="0.75"/>
<rect x="476.08" y="341.90" width="6.24" height="1.8" fill="#8c8c8c" opacity="0.75"/>
<line x1="489.60" y1="383.90" x2="489.60" y2="385.20" stroke="#8c8c8c" stroke-width="0.9"/>
<line x1="486.48" y1="385.20" x2="492.72" y2="385.20" stroke="#8c8c8c" stroke-width="1.1"/>
<rect x="486.48" y="383.00" width="6.24" height="1.8" fill="#8c8c8c" opacity="0.75"/>
<rect x="496.88" y="349.30" width="6.24" height="1.8" fill="#8c8c8c" opacity="0.75"/>
<text id="t91" x="364.76" y="301.27" font-family="Liberation Serif" font-size="17.00" font-weight="bold" font-style="italic" fill="#000" stroke="#000" stroke-width="0.1" textLength="77.22" lengthAdjust="spacingAndGlyphs">MaEXPA1</text>
<text id="t92" transform="scale(1.15,1)" x="283.34" y="323.93" font-family="Liberation Serif" font-size="9.00" font-weight="bold" fill="#5c5c5c" stroke="#5c5c5c" stroke-width="0.2" textLength="18.58" lengthAdjust="spacing">4.00</text>
<text id="t93" transform="scale(1.15,1)" x="283.39" y="339.67" font-family="Liberation Serif" font-size="9.00" font-weight="bold" fill="#5c5c5c" stroke="#5c5c5c" stroke-width="0.2" textLength="18.54" lengthAdjust="spacing">2.00</text>
<text id="t94" transform="scale(1.15,1)" x="283.39" y="355.41" font-family="Liberation Serif" font-size="9.00" font-weight="bold" fill="#5c5c5c" stroke="#5c5c5c" stroke-width="0.2" textLength="18.54" lengthAdjust="spacing">0.00</text>
<text id="t95" transform="scale(1.15,1)" x="279.80" y="371.14" font-family="Liberation Serif" font-size="9.00" font-weight="bold" fill="#5c5c5c" stroke="#5c5c5c" stroke-width="0.2" textLength="22.11" lengthAdjust="spacing">-2.00</text>
<text id="t96" transform="scale(1.15,1)" x="279.80" y="386.88" font-family="Liberation Serif" font-size="9.00" font-weight="bold" fill="#5c5c5c" stroke="#5c5c5c" stroke-width="0.2" textLength="22.11" lengthAdjust="spacing">-4.00</text>
<text id="t97" transform="scale(1.15,1)" x="279.80" y="402.62" font-family="Liberation Serif" font-size="9.00" font-weight="bold" fill="#5c5c5c" stroke="#5c5c5c" stroke-width="0.2" textLength="22.11" lengthAdjust="spacing">-6.00</text>
<text id="t98" transform="scale(1.1,1)" x="339.32" y="370.85" font-family="Liberation Serif" font-size="9.00" font-weight="bold" fill="#000" stroke="#000" stroke-width="0.3" textLength="16.90" lengthAdjust="spacing">UnP</text>
<text id="t99" transform="scale(1.1,1)" x="388.05" y="370.92" font-family="Liberation Serif" font-size="9.00" font-weight="bold" fill="#000" stroke="#000" stroke-width="0.3" textLength="16.69" lengthAdjust="spacing">P24</text>
<text id="t100" transform="scale(1.1,1)" x="436.86" y="370.90" font-family="Liberation Serif" font-size="9.00" font-weight="bold" fill="#000" stroke="#000" stroke-width="0.3" textLength="17.28" lengthAdjust="spacing">P48</text>
<text id="t101" transform="scale(0.86,1)" x="425.67" y="411.87" font-family="Liberation Serif" font-size="9.90" font-weight="bold" fill="#000" stroke="#000" stroke-width="0.3" textLength="85.23" lengthAdjust="spacing">EXPERIMENTAL</text>
<text id="t102" transform="scale(0.86,1)" x="514.74" y="411.82" font-family="Liberation Serif" font-size="9.90" font-weight="bold" fill="#000" stroke="#000" stroke-width="0.3" textLength="71.25" lengthAdjust="spacing">CONDITIONS</text>
<text id="t103" transform="translate(293.57,412.40) rotate(-90) scale(0.92,1)" x="-0.14" y="0" font-family="Liberation Serif" font-size="9.20" font-weight="bold" fill="#000" stroke="#000" stroke-width="0.3" textLength="115.99" lengthAdjust="spacing">RELATIVE EXPRESSION</text>
<text id="t104" transform="translate(304.11,386.70) rotate(-90) scale(0.92,1)" x="-0.41" y="0" font-family="Liberation Serif" font-size="9.20" font-weight="bold" fill="#000" stroke="#000" stroke-width="0.3" textLength="61.56" lengthAdjust="spacing">(LOG FOLD)</text>
<rect x="537.00" y="282.50" width="254.00" height="151.50" fill="none" stroke="#dedede" stroke-width="1.5"/>
<rect x="628.90" y="373.40" width="10.70" height="6.10" fill="#4f81bd"/>
<rect x="639.60" y="373.40" width="10.70" height="14.60" fill="#c0504d"/>
<rect x="650.30" y="368.50" width="10.70" height="4.90" fill="#9bbb59"/>
<rect x="681.95" y="342.70" width="10.70" height="30.70" fill="#4f81bd"/>
<rect x="692.65" y="362.60" width="10.70" height="10.80" fill="#c0504d"/>
<rect x="703.35" y="360.50" width="10.70" height="12.90" fill="#9bbb59"/>
<rect x="735.00" y="362.10" width="10.70" height="11.30" fill="#4f81bd"/>
<rect x="745.70" y="373.40" width="10.70" height="15.70" fill="#c0504d"/>
<rect x="756.40" y="371.40" width="10.70" height="2.00" fill="#9bbb59"/>
<line x1="618.10" y1="373.40" x2="778.80" y2="373.40" stroke="#d4d4d4" stroke-width="1.0"/>
<rect x="631.04" y="378.60" width="6.42" height="1.8" fill="#8c8c8c" opacity="0.75"/>
<rect x="641.74" y="387.10" width="6.42" height="1.8" fill="#8c8c8c" opacity="0.75"/>
<rect x="652.44" y="367.60" width="6.42" height="1.8" fill="#8c8c8c" opacity="0.75"/>
<rect x="684.09" y="341.80" width="6.42" height="1.8" fill="#8c8c8c" opacity="0.75"/>
<rect x="694.79" y="361.70" width="6.42" height="1.8" fill="#8c8c8c" opacity="0.75"/>
<rect x="705.49" y="359.60" width="6.42" height="1.8" fill="#8c8c8c" opacity="0.75"/>
<rect x="737.14" y="361.20" width="6.42" height="1.8" fill="#8c8c8c" opacity="0.75"/>
<rect x="747.84" y="388.20" width="6.42" height="1.8" fill="#8c8c8c" opacity="0.75"/>
<rect x="758.54" y="370.50" width="6.42" height="1.8" fill="#8c8c8c" opacity="0.75"/>
<text id="t105" x="617.57" y="307.47" font-family="Liberation Serif" font-size="17.00" font-weight="bold" font-style="italic" fill="#000" stroke="#000" stroke-width="0.1" textLength="92.38" lengthAdjust="spacingAndGlyphs">MaMADS29</text>
<text id="t106" transform="scale(1.15,1)" x="510.21" y="330.23" font-family="Liberation Serif" font-size="9.00" font-weight="bold" fill="#5c5c5c" stroke="#5c5c5c" stroke-width="0.2" textLength="18.76" lengthAdjust="spacing">6.00</text>
<text id="t107" transform="scale(1.15,1)" x="510.17" y="345.97" font-family="Liberation Serif" font-size="9.00" font-weight="bold" fill="#5c5c5c" stroke="#5c5c5c" stroke-width="0.2" textLength="18.80" lengthAdjust="spacing">4.00</text>
<text id="t108" transform="scale(1.15,1)" x="510.22" y="361.71" font-family="Liberation Serif" font-size="9.00" font-weight="bold" fill="#5c5c5c" stroke="#5c5c5c" stroke-width="0.2" textLength="18.75" lengthAdjust="spacing">2.00</text>
<text id="t109" transform="scale(1.15,1)" x="510.22" y="377.44" font-family="Liberation Serif" font-size="9.00" font-weight="bold" fill="#5c5c5c" stroke="#5c5c5c" stroke-width="0.2" textLength="18.75" lengthAdjust="spacing">0.00</text>
<text id="t110" transform="scale(1.15,1)" x="506.59" y="393.19" font-family="Liberation Serif" font-size="9.00" font-weight="bold" fill="#5c5c5c" stroke="#5c5c5c" stroke-width="0.2" textLength="22.36" lengthAdjust="spacing">-2.00</text>
<text id="t111" transform="scale(1.15,1)" x="506.59" y="408.93" font-family="Liberation Serif" font-size="9.00" font-weight="bold" fill="#5c5c5c" stroke="#5c5c5c" stroke-width="0.2" textLength="22.36" lengthAdjust="spacing">-4.00</text>
<text id="t112" transform="scale(1.1,1)" x="576.59" y="393.55" font-family="Liberation Serif" font-size="9.00" font-weight="bold" fill="#000" stroke="#000" stroke-width="0.3" textLength="16.90" lengthAdjust="spacing">UnP</text>
<text id="t113" transform="scale(1.1,1)" x="626.14" y="393.62" font-family="Liberation Serif" font-size="9.00" font-weight="bold" fill="#000" stroke="#000" stroke-width="0.3" textLength="16.69" lengthAdjust="spacing">P24</text>
<text id="t114" transform="scale(1.1,1)" x="674.23" y="393.60" font-family="Liberation Serif" font-size="9.00" font-weight="bold" fill="#000" stroke="#000" stroke-width="0.3" textLength="16.82" lengthAdjust="spacing">P48</text>
<text id="t115" transform="scale(0.86,1)" x="732.87" y="417.37" font-family="Liberation Serif" font-size="9.90" font-weight="bold" fill="#000" stroke="#000" stroke-width="0.3" textLength="85.23" lengthAdjust="spacing">EXPERIMENTAL</text>
<text id="t116" transform="scale(0.86,1)" x="821.83" y="417.32" font-family="Liberation Serif" font-size="9.90" font-weight="bold" fill="#000" stroke="#000" stroke-width="0.3" textLength="71.25" lengthAdjust="spacing">CONDITIONS</text>
<text id="t117" transform="translate(554.22,428.80) rotate(-90) scale(0.92,1)" x="-0.14" y="0" font-family="Liberation Serif" font-size="9.20" font-weight="bold" fill="#000" stroke="#000" stroke-width="0.3" textLength="116.32" lengthAdjust="spacing">RELATIVE EXPRESSION</text>
<text id="t118" transform="translate(567.31,402.50) rotate(-90) scale(0.92,1)" x="-0.41" y="0" font-family="Liberation Serif" font-size="9.20" font-weight="bold" fill="#000" stroke="#000" stroke-width="0.3" textLength="60.04" lengthAdjust="spacing">(LOGFOLD)</text>
<rect x="1.00" y="434.00" width="268.00" height="165.50" fill="none" stroke="#dedede" stroke-width="1.5"/>
<rect x="93.60" y="514.50" width="11.60" height="5.50" fill="#4f81bd"/>
<rect x="105.20" y="514.50" width="11.60" height="1.60" fill="#c0504d"/>
<rect x="116.80" y="514.50" width="11.60" height="2.40" fill="#9bbb59"/>
<rect x="151.25" y="506.40" width="11.60" height="8.10" fill="#4f81bd"/>
<rect x="162.85" y="496.70" width="11.60" height="17.80" fill="#c0504d"/>
<rect x="174.45" y="514.50" width="11.60" height="38.20" fill="#9bbb59"/>
<rect x="208.90" y="490.40" width="11.60" height="24.10" fill="#4f81bd"/>
<rect x="220.50" y="492.30" width="11.60" height="22.20" fill="#c0504d"/>
<rect x="232.10" y="514.50" width="11.60" height="7.90" fill="#9bbb59"/>
<line x1="81.40" y1="514.50" x2="256.30" y2="514.50" stroke="#d4d4d4" stroke-width="1.0"/>
<rect x="95.92" y="519.10" width="6.96" height="1.8" fill="#8c8c8c" opacity="0.75"/>
<rect x="107.52" y="515.20" width="6.96" height="1.8" fill="#8c8c8c" opacity="0.75"/>
<rect x="119.12" y="516.00" width="6.96" height="1.8" fill="#8c8c8c" opacity="0.75"/>
<rect x="153.57" y="505.50" width="6.96" height="1.8" fill="#8c8c8c" opacity="0.75"/>
<rect x="165.17" y="495.80" width="6.96" height="1.8" fill="#8c8c8c" opacity="0.75"/>
<line x1="180.25" y1="552.70" x2="180.25" y2="554.90" stroke="#8c8c8c" stroke-width="0.9"/>
<line x1="176.77" y1="554.90" x2="183.73" y2="554.90" stroke="#8c8c8c" stroke-width="1.1"/>
<rect x="176.77" y="551.80" width="6.96" height="1.8" fill="#8c8c8c" opacity="0.75"/>
<rect x="211.22" y="489.50" width="6.96" height="1.8" fill="#8c8c8c" opacity="0.75"/>
<rect x="222.82" y="491.40" width="6.96" height="1.8" fill="#8c8c8c" opacity="0.75"/>
<rect x="234.42" y="521.50" width="6.96" height="1.8" fill="#8c8c8c" opacity="0.75"/>
<text id="t119" x="93.65" y="459.27" font-family="Liberation Serif" font-size="17.00" font-weight="bold" font-style="italic" fill="#000" stroke="#000" stroke-width="0.1" textLength="82.16" lengthAdjust="spacingAndGlyphs">MaACLB-2</text>
<text id="t120" transform="scale(1.15,1)" x="44.04" y="481.83" font-family="Liberation Serif" font-size="9.00" font-weight="bold" fill="#5c5c5c" stroke="#5c5c5c" stroke-width="0.2" textLength="18.58" lengthAdjust="spacing">4.00</text>
<text id="t121" transform="scale(1.15,1)" x="44.08" y="500.37" font-family="Liberation Serif" font-size="9.00" font-weight="bold" fill="#5c5c5c" stroke="#5c5c5c" stroke-width="0.2" textLength="18.54" lengthAdjust="spacing">2.00</text>
<text id="t122" transform="scale(1.15,1)" x="44.08" y="518.90" font-family="Liberation Serif" font-size="9.00" font-weight="bold" fill="#5c5c5c" stroke="#5c5c5c" stroke-width="0.2" textLength="18.54" lengthAdjust="spacing">0.00</text>
<text id="t123" transform="scale(1.15,1)" x="40.50" y="537.44" font-family="Liberation Serif" font-size="9.00" font-weight="bold" fill="#5c5c5c" stroke="#5c5c5c" stroke-width="0.2" textLength="22.11" lengthAdjust="spacing">-2.00</text>
<text id="t124" transform="scale(1.15,1)" x="40.50" y="555.98" font-family="Liberation Serif" font-size="9.00" font-weight="bold" fill="#5c5c5c" stroke="#5c5c5c" stroke-width="0.2" textLength="22.11" lengthAdjust="spacing">-4.00</text>
<text id="t125" transform="scale(1.15,1)" x="40.50" y="574.52" font-family="Liberation Serif" font-size="9.00" font-weight="bold" fill="#5c5c5c" stroke="#5c5c5c" stroke-width="0.2" textLength="22.11" lengthAdjust="spacing">-6.00</text>
<text id="t126" transform="scale(1.1,1)" x="91.96" y="535.20" font-family="Liberation Serif" font-size="9.00" font-weight="bold" fill="#000" stroke="#000" stroke-width="0.3" textLength="17.44" lengthAdjust="spacing">UnP</text>
<text id="t127" transform="scale(1.1,1)" x="144.96" y="535.27" font-family="Liberation Serif" font-size="9.00" font-weight="bold" fill="#000" stroke="#000" stroke-width="0.3" textLength="17.32" lengthAdjust="spacing">P24</text>
<text id="t128" transform="scale(1.1,1)" x="197.59" y="535.25" font-family="Liberation Serif" font-size="9.00" font-weight="bold" fill="#000" stroke="#000" stroke-width="0.3" textLength="17.46" lengthAdjust="spacing">P48</text>
<text id="t129" transform="scale(0.86,1)" x="116.71" y="582.52" font-family="Liberation Serif" font-size="9.90" font-weight="bold" fill="#000" stroke="#000" stroke-width="0.3" textLength="85.23" lengthAdjust="spacing">EXPERIMENTAL</text>
<text id="t130" transform="scale(0.86,1)" x="205.78" y="582.47" font-family="Liberation Serif" font-size="9.90" font-weight="bold" fill="#000" stroke="#000" stroke-width="0.3" textLength="71.25" lengthAdjust="spacing">CONDITIONS</text>
<text id="t131" transform="translate(20.27,579.80) rotate(-90) scale(0.92,1)" x="-0.14" y="0" font-family="Liberation Serif" font-size="9.20" font-weight="bold" fill="#000" stroke="#000" stroke-width="0.3" textLength="115.99" lengthAdjust="spacing">RELATIVE EXPRESSION</text>
<text id="t132" transform="translate(31.51,553.20) rotate(-90) scale(0.92,1)" x="-0.41" y="0" font-family="Liberation Serif" font-size="9.20" font-weight="bold" fill="#000" stroke="#000" stroke-width="0.3" textLength="60.80" lengthAdjust="spacing">(LOGFOLD)</text>
<rect x="276.00" y="434.00" width="254.50" height="165.50" fill="none" stroke="#dedede" stroke-width="1.5"/>
<rect x="367.50" y="489.40" width="10.40" height="9.10" fill="#4f81bd"/>
<rect x="377.90" y="498.50" width="10.40" height="1.50" fill="#c0504d"/>
<rect x="388.30" y="498.50" width="10.40" height="6.00" fill="#9bbb59"/>
<rect x="420.75" y="498.50" width="10.40" height="11.30" fill="#4f81bd"/>
<rect x="431.15" y="498.50" width="10.40" height="49.50" fill="#c0504d"/>
<rect x="441.55" y="498.50" width="10.40" height="0.50" fill="#9bbb59"/>
<rect x="474.00" y="498.50" width="10.40" height="58.10" fill="#4f81bd"/>
<rect x="484.40" y="498.50" width="10.40" height="2.70" fill="#c0504d"/>
<rect x="494.80" y="498.50" width="10.40" height="9.60" fill="#9bbb59"/>
<line x1="356.30" y1="498.50" x2="517.70" y2="498.50" stroke="#d4d4d4" stroke-width="1.0"/>
<rect x="369.58" y="488.50" width="6.24" height="1.8" fill="#8c8c8c" opacity="0.75"/>
<rect x="379.98" y="499.10" width="6.24" height="1.8" fill="#8c8c8c" opacity="0.75"/>
<rect x="390.38" y="503.60" width="6.24" height="1.8" fill="#8c8c8c" opacity="0.75"/>
<rect x="422.83" y="508.90" width="6.24" height="1.8" fill="#8c8c8c" opacity="0.75"/>
<line x1="436.35" y1="548.00" x2="436.35" y2="550.80" stroke="#8c8c8c" stroke-width="0.9"/>
<line x1="433.23" y1="550.80" x2="439.47" y2="550.80" stroke="#8c8c8c" stroke-width="1.1"/>
<rect x="433.23" y="547.10" width="6.24" height="1.8" fill="#8c8c8c" opacity="0.75"/>
<rect x="443.63" y="498.10" width="6.24" height="1.8" fill="#8c8c8c" opacity="0.75"/>
<line x1="479.20" y1="556.60" x2="479.20" y2="559.90" stroke="#8c8c8c" stroke-width="0.9"/>
<line x1="476.08" y1="559.90" x2="482.32" y2="559.90" stroke="#8c8c8c" stroke-width="1.1"/>
<rect x="476.08" y="555.70" width="6.24" height="1.8" fill="#8c8c8c" opacity="0.75"/>
<rect x="486.48" y="500.30" width="6.24" height="1.8" fill="#8c8c8c" opacity="0.75"/>
<rect x="496.88" y="507.20" width="6.24" height="1.8" fill="#8c8c8c" opacity="0.75"/>
<text id="t133" x="372.98" y="460.69" font-family="Liberation Serif" font-size="19.50" font-weight="bold" font-style="italic" fill="#000" stroke="#000" stroke-width="0.1" textLength="61.28" lengthAdjust="spacingAndGlyphs">MaLFY</text>
<text id="t134" transform="scale(1.15,1)" x="283.12" y="484.12" font-family="Liberation Serif" font-size="9.00" font-weight="bold" fill="#5c5c5c" stroke="#5c5c5c" stroke-width="0.2" textLength="18.81" lengthAdjust="spacing">2.00</text>
<text id="t135" transform="scale(1.15,1)" x="283.12" y="502.12" font-family="Liberation Serif" font-size="9.00" font-weight="bold" fill="#5c5c5c" stroke="#5c5c5c" stroke-width="0.2" textLength="18.81" lengthAdjust="spacing">0.00</text>
<text id="t136" transform="scale(1.15,1)" x="279.48" y="520.12" font-family="Liberation Serif" font-size="9.00" font-weight="bold" fill="#5c5c5c" stroke="#5c5c5c" stroke-width="0.2" textLength="22.43" lengthAdjust="spacing">-2.00</text>
<text id="t137" transform="scale(1.15,1)" x="279.48" y="538.12" font-family="Liberation Serif" font-size="9.00" font-weight="bold" fill="#5c5c5c" stroke="#5c5c5c" stroke-width="0.2" textLength="22.43" lengthAdjust="spacing">-4.00</text>
<text id="t138" transform="scale(1.15,1)" x="279.48" y="556.12" font-family="Liberation Serif" font-size="9.00" font-weight="bold" fill="#5c5c5c" stroke="#5c5c5c" stroke-width="0.2" textLength="22.43" lengthAdjust="spacing">-6.00</text>
<text id="t139" transform="scale(1.15,1)" x="279.48" y="574.12" font-family="Liberation Serif" font-size="9.00" font-weight="bold" fill="#5c5c5c" stroke="#5c5c5c" stroke-width="0.2" textLength="22.43" lengthAdjust="spacing">-8.00</text>
<text id="t140" transform="scale(1.1,1)" x="339.32" y="518.65" font-family="Liberation Serif" font-size="9.00" font-weight="bold" fill="#000" stroke="#000" stroke-width="0.3" textLength="16.90" lengthAdjust="spacing">UnP</text>
<text id="t141" transform="scale(1.1,1)" x="388.32" y="518.72" font-family="Liberation Serif" font-size="9.00" font-weight="bold" fill="#000" stroke="#000" stroke-width="0.3" textLength="17.23" lengthAdjust="spacing">P24</text>
<text id="t142" transform="scale(1.1,1)" x="436.41" y="518.70" font-family="Liberation Serif" font-size="9.00" font-weight="bold" fill="#000" stroke="#000" stroke-width="0.3" textLength="17.64" lengthAdjust="spacing">P48</text>
<text id="t143" transform="scale(0.86,1)" x="428.46" y="582.67" font-family="Liberation Serif" font-size="9.90" font-weight="bold" fill="#000" stroke="#000" stroke-width="0.3" textLength="85.23" lengthAdjust="spacing">EXPERIMENTAL</text>
<text id="t144" transform="scale(0.86,1)" x="518.34" y="582.62" font-family="Liberation Serif" font-size="9.90" font-weight="bold" fill="#000" stroke="#000" stroke-width="0.3" textLength="71.25" lengthAdjust="spacing">CONDITIONS</text>
<text id="t145" transform="translate(299.51,599.20) rotate(-90) scale(0.92,1)" x="-0.14" y="0" font-family="Liberation Serif" font-size="9.20" font-weight="bold" fill="#000" stroke="#000" stroke-width="0.3" textLength="124.90" lengthAdjust="spacing">RELATIVE EXPRESSION (</text>
<text id="t146" transform="translate(311.76,567.30) rotate(-90) scale(0.92,1)" x="-0.14" y="0" font-family="Liberation Serif" font-size="9.20" font-weight="bold" fill="#000" stroke="#000" stroke-width="0.3" textLength="55.00" lengthAdjust="spacing">LOGFOLD)</text>
<rect x="621.5" y="476.5" width="104" height="105" fill="#000" opacity="0.55" filter="url(#sh)"/>
<rect x="619.5" y="474.5" width="104" height="105" fill="#fff" stroke="#4a4a4a" stroke-width="1.2"/>
<rect x="637.00" y="483.50" width="17.00" height="13.00" fill="#4f81bd"/>
<rect x="637.00" y="523.00" width="17.00" height="13.00" fill="#c0504d"/>
<rect x="637.00" y="562.00" width="17.00" height="13.00" fill="#9bbb59"/>
<text id="t147" x="659.61" y="496.82" font-family="Liberation Serif" font-size="21.00" font-weight="bold" fill="#000" stroke="#000" stroke-width="0.3" textLength="34.01" lengthAdjust="spacingAndGlyphs">C4</text>
<text id="t148" x="659.75" y="536.77" font-family="Liberation Serif" font-size="21.00" font-weight="bold" fill="#000" stroke="#000" stroke-width="0.3" textLength="54.04" lengthAdjust="spacingAndGlyphs">CVR</text>
<text id="t149" x="660.61" y="575.88" font-family="Liberation Serif" font-size="21.00" font-weight="bold" fill="#000" stroke="#000" stroke-width="0.3" textLength="33.52" lengthAdjust="spacingAndGlyphs">PL</text>
</svg>
</body></html>
